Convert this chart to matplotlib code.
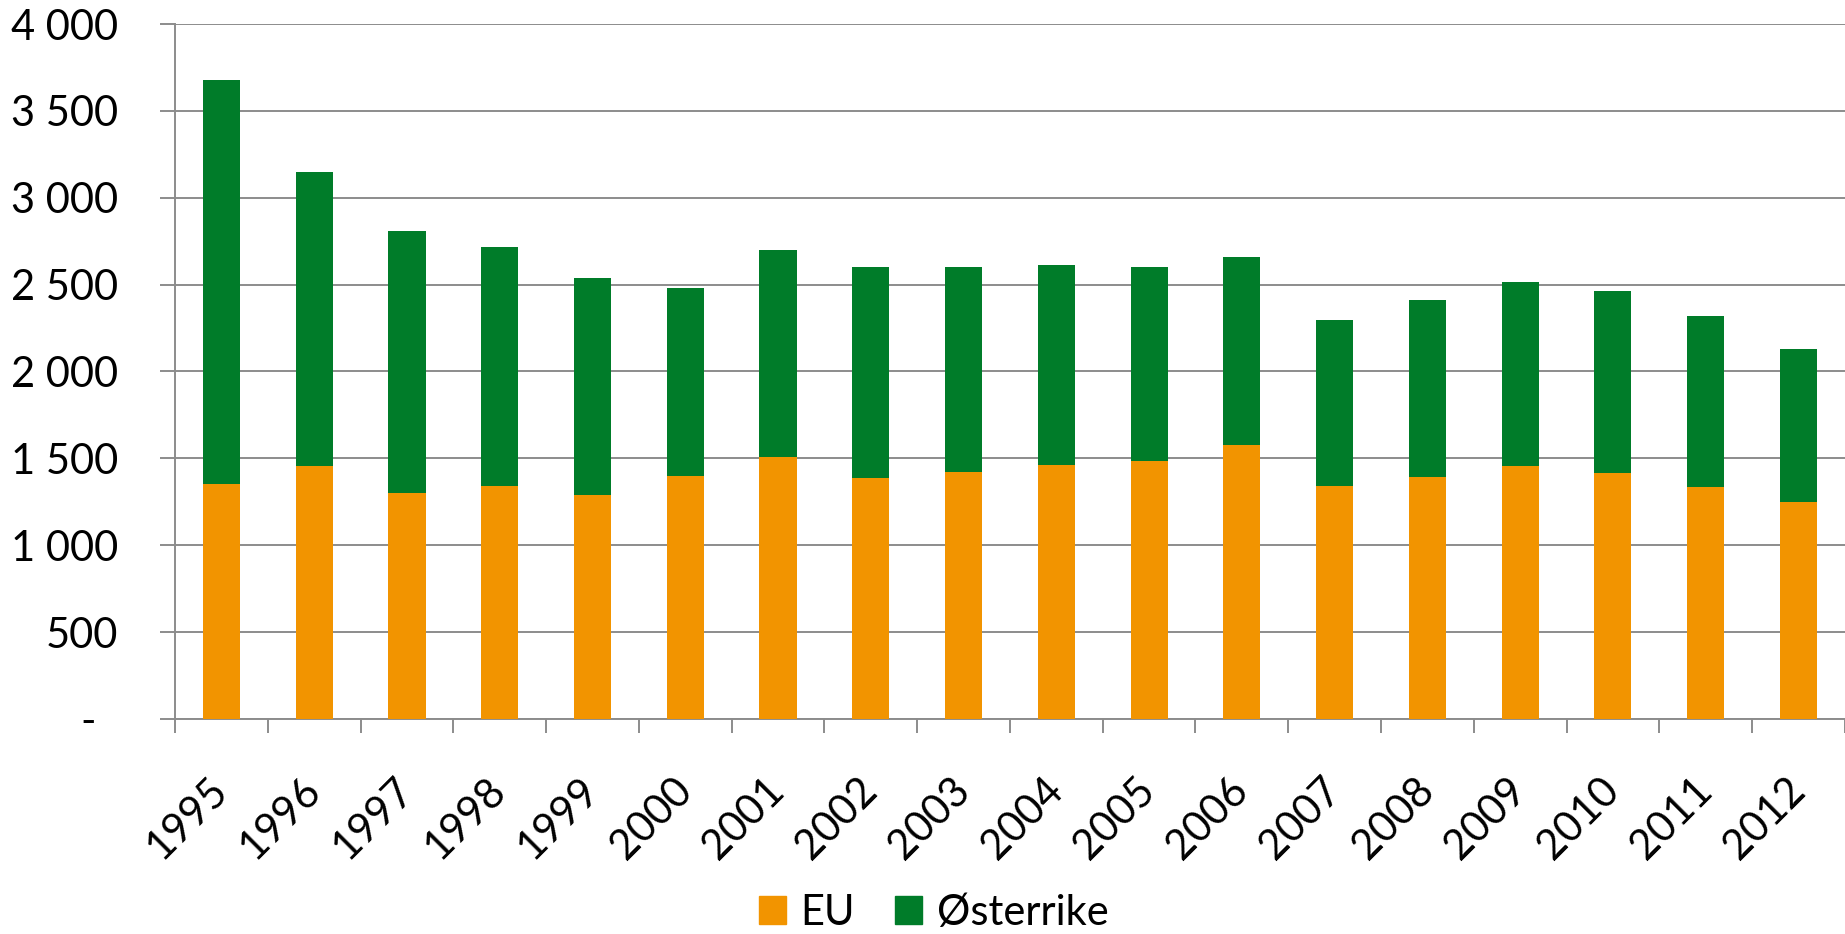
import matplotlib.pyplot as plt
import numpy as np
from matplotlib.patches import Patch
from matplotlib.ticker import FuncFormatter

years = [str(y) for y in range(1995, 2013)]
eu = [1354, 1456, 1300, 1343, 1289, 1397, 1508, 1389, 1422,
      1460, 1483, 1577, 1343, 1393, 1456, 1418, 1333, 1249]
total = [3678, 3150, 2806, 2716, 2540, 2479, 2701, 2603, 2601,
         2611, 2600, 2661, 2298, 2413, 2515, 2465, 2317, 2131]
austria = [t - e for t, e in zip(total, eu)]

ORANGE = '#F29400'
GREEN = '#007C29'
GREY = '#8C8C8C'

plt.rcParams['font.family'] = ['Lato', 'DejaVu Sans']

fig = plt.figure(figsize=(18.45, 9.34), dpi=100)
ax = fig.add_axes([0.0949, 0.2302, 0.905, 0.7441])

x = np.arange(len(years))
ax.bar(x, eu, width=0.4, color=ORANGE, zorder=3)
ax.bar(x, austria, width=0.4, bottom=eu, color=GREEN, zorder=3)

ax.set_xlim(-0.5, len(years) - 0.5)
ax.set_ylim(0, 4000)
ax.set_yticks(np.arange(0, 4001, 500))


def fmt(v, pos):
    if v == 0:
        return '-  '
    return f'{int(v):,}'.replace(',', ' ')


ax.yaxis.set_major_formatter(FuncFormatter(fmt))
ax.yaxis.grid(True, color=GREY, linewidth=1.4, zorder=0)
ax.tick_params(axis='y', length=11, width=1.4, color=GREY, labelsize=30, pad=30)

ax.set_xticks(x)
ax.set_xticklabels(years, rotation=45, ha='right', va='center',
                   rotation_mode='anchor', fontsize=30)
ax.set_xticks(np.arange(-0.5, len(years)), minor=True)
ax.tick_params(axis='x', which='major', length=0, pad=47)
ax.tick_params(axis='x', which='minor', length=10, width=1.4, color=GREY)

for s in ['top', 'right']:
    ax.spines[s].set_visible(False)
for s in ['left', 'bottom']:
    ax.spines[s].set_color(GREY)
    ax.spines[s].set_linewidth(1.4)

handles = [Patch(color=ORANGE, label='EU'), Patch(color=GREEN, label='Østerrike')]
fig.legend(handles=handles, loc='center', bbox_to_anchor=(0.506, 0.0225),
           ncol=2, frameon=False, fontsize=30, handlelength=0.65,
           handleheight=0.65, handletextpad=0.34, columnspacing=0.98)

fig.savefig('out.png', dpi=100)
